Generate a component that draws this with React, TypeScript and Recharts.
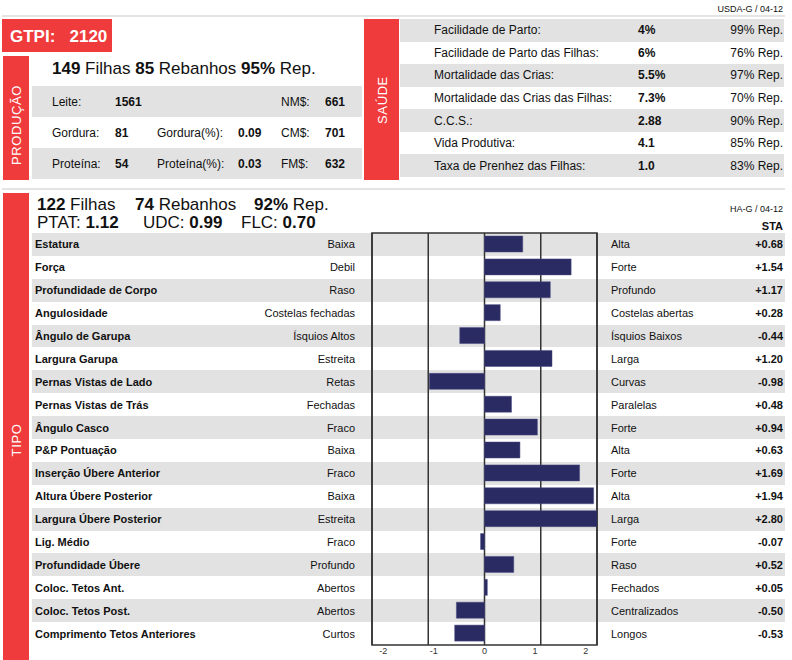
import React from 'react';
import {
  BarChart, Bar, XAxis, YAxis, CartesianGrid, ReferenceArea,
} from 'recharts';

// tipo traits (top to bottom)
const traits = [
  'Estatura', 'Força', 'Profundidade de Corpo', 'Angulosidade', 'Ângulo de Garupa',
  'Largura Garupa', 'Pernas Vistas de Lado', 'Pernas Vistas de Trás', 'Ângulo Casco',
  'P&P Pontuação', 'Inserção Úbere Anterior', 'Altura Úbere Posterior',
  'Largura Úbere Posterior', 'Lig. Médio', 'Profundidade Úbere', 'Coloc. Tetos Ant.',
  'Coloc. Tetos Post.', 'Comprimento Tetos Anteriores',
];
const lowLabels = [
  'Baixa', 'Debil', 'Raso', 'Costelas fechadas', 'Ísquios Altos', 'Estreita', 'Retas',
  'Fechadas', 'Fraco', 'Baixa', 'Fraco', 'Baixa', 'Estreita', 'Fraco', 'Profundo',
  'Abertos', 'Abertos', 'Curtos',
];
const highLabels = [
  'Alta', 'Forte', 'Profundo', 'Costelas abertas', 'Ísquios Baixos', 'Larga', 'Curvas',
  'Paralelas', 'Forte', 'Alta', 'Forte', 'Alta', 'Larga', 'Forte', 'Raso', 'Fechados',
  'Centralizados', 'Longos',
];
const staValues = [
  0.68, 1.54, 1.17, 0.28, -0.44, 1.2, -0.98, 0.48, 0.94, 0.63, 1.69, 1.94, 2.8,
  -0.07, 0.52, 0.05, -0.5, -0.53,
];
const axisTicks = [-2, -1, 0, 1, 2];

// produção table
const prodRows = [
  ['Leite:', '1561', '', '', 'NM$:', '661'],
  ['Gordura:', '81', 'Gordura(%):', '0.09', 'CM$:', '701'],
  ['Proteína:', '54', 'Proteína(%):', '0.03', 'FM$:', '632'],
];

// saúde table
const healthLabels = [
  'Facilidade de Parto:', 'Facilidade de Parto das Filhas:', 'Mortalidade das Crias:',
  'Mortalidade das Crias das Filhas:', 'C.C.S.:', 'Vida Produtiva:', 'Taxa de Prenhez das Filhas:',
];
const healthValues = ['4%', '6%', '5.5%', '7.3%', '2.88', '4.1', '1.0'];
const healthRep = ['99%', '76%', '97%', '70%', '90%', '85%', '83%'];

const data = traits.map((t, i) => ({
  trait: t, low: lowLabels[i], high: highLabels[i], sta: staValues[i],
}));

const RED = '#ef3b3b';
const STRIPE = '#e2e2e2';
const FONT = "'Liberation Sans', Arial, Helvetica, sans-serif";

const CHART_W = 753;
const CHART_H = 429;
const LEFT_W = 340;
const RIGHT_W = 188;
const PLOT_TOP = 2;
const PLOT_H = 412;
const rowH = PLOT_H / traits.length;
const PLOT_MID = LEFT_W + (CHART_W - LEFT_W - RIGHT_W) / 2;

const fmt = (v: number) => (v > 0 ? '+' : '') + v.toFixed(2);

function Txt({ x, y, children, size = 12, bold = false, right = false, color = '#111' }: any) {
  const style: React.CSSProperties = {
    position: 'absolute', top: y, transform: 'translateY(-50%)', fontSize: size,
    lineHeight: 1, whiteSpace: 'nowrap', fontWeight: bold ? 'bold' : 'normal', color,
  };
  if (right) style.right = 792 - x; else style.left = x;
  return <div style={style}>{children}</div>;
}

function VLabel({ x, y, text, size = 13 }: any) {
  return (
    <div style={{
      position: 'absolute', left: x, top: y, transform: 'translate(-50%,-50%) rotate(-90deg)',
      color: '#fff', fontSize: size, whiteSpace: 'nowrap', letterSpacing: 0.6, lineHeight: 1,
    }}>{text}</div>
  );
}

const LeftTick = (props: any) => {
  const d = data.find((r) => r.trait === props.payload.value);
  return (
    <g>
      <text x={3} y={props.y} dy={4} fontSize={11} fontWeight="bold" fill="#111" fontFamily={FONT}>
        {props.payload.value}
      </text>
      <text x={323} y={props.y} dy={4} fontSize={11} textAnchor="end" fill="#111" fontFamily={FONT}>
        {d ? d.low : ''}
      </text>
    </g>
  );
};

const RightTick = (props: any) => {
  const d = data.find((r) => r.trait === props.payload.value);
  if (!d) return null;
  return (
    <g>
      <text x={579} y={props.y} dy={4} fontSize={11} fill="#111" fontFamily={FONT}>{d.high}</text>
      <text x={751} y={props.y} dy={4} fontSize={11} fontWeight="bold" textAnchor="end" fill="#111" fontFamily={FONT}>
        {fmt(d.sta)}
      </text>
    </g>
  );
};

// the print labels sit slightly inside the grid lines
const XTick = (props: any) => {
  const x = PLOT_MID + (props.x - PLOT_MID) * 0.9;
  return (
    <text x={x} y={props.y} dy={7} fontSize={9} textAnchor="middle" fill="#333" fontFamily={FONT}>
      {props.payload.value}
    </text>
  );
};

export default function App() {
  return (
    <div style={{
      position: 'absolute', left: 0, top: 0, width: 792, height: 660, background: '#fff',
      fontFamily: FONT, overflow: 'hidden', color: '#111',
    }}>
      {/* header */}
      <Txt x={783} y={9} size={9} right>USDA-G / 04-12</Txt>
      <div style={{ position: 'absolute', left: 2, top: 15, width: 783, height: 2, background: '#e4e4e4' }} />

      {/* GTPI */}
      <div style={{ position: 'absolute', left: 2, top: 19, width: 110, height: 33, background: RED }} />
      <Txt x={10} y={36} size={17} bold color="#fff">GTPI:&nbsp;&nbsp;&nbsp;2120</Txt>

      {/* produção */}
      <div style={{ position: 'absolute', left: 3, top: 56, width: 26, height: 124, background: RED }} />
      <VLabel x={16} y={125} text="PRODUÇÃO" />
      <Txt x={52} y={68} size={17}>
        <b>149</b> Filhas <b>85</b> Rebanhos <b>95%</b> Rep.
      </Txt>
      {prodRows.map((r, i) => {
        const top = 86 + i * 31;
        const cy = top + 15.5;
        return (
          <React.Fragment key={'p' + i}>
            {i % 2 === 0 && (
              <div style={{ position: 'absolute', left: 32, top, width: 330, height: 31, background: STRIPE }} />
            )}
            <Txt x={52} y={cy}>{r[0]}</Txt>
            <Txt x={115} y={cy} bold>{r[1]}</Txt>
            <Txt x={157} y={cy}>{r[2]}</Txt>
            <Txt x={238} y={cy} bold>{r[3]}</Txt>
            <Txt x={281} y={cy}>{r[4]}</Txt>
            <Txt x={325} y={cy} bold>{r[5]}</Txt>
          </React.Fragment>
        );
      })}

      {/* saúde */}
      <div style={{ position: 'absolute', left: 364, top: 19, width: 35, height: 161, background: RED }} />
      <VLabel x={382} y={100} text="SAÚDE" />
      {healthLabels.map((l, i) => {
        const h = 158 / 7;
        const top = 19 + i * h;
        const cy = top + h / 2;
        return (
          <React.Fragment key={'h' + i}>
            {i % 2 === 0 && (
              <div style={{ position: 'absolute', left: 400, top, width: 384, height: h, background: STRIPE }} />
            )}
            <Txt x={434} y={cy}>{l}</Txt>
            <Txt x={638} y={cy} bold>{healthValues[i]}</Txt>
            <Txt x={783} y={cy} right>{healthRep[i]} Rep.</Txt>
          </React.Fragment>
        );
      })}

      <div style={{ position: 'absolute', left: 2, top: 188, width: 783, height: 2, background: '#e4e4e4' }} />

      {/* tipo */}
      <div style={{ position: 'absolute', left: 3, top: 193, width: 26, height: 467, background: RED }} />
      <VLabel x={16} y={440} text="TIPO" />
      <Txt x={37} y={204} size={17}><b>122</b> Filhas</Txt>
      <Txt x={135} y={204} size={17}><b>74</b> Rebanhos</Txt>
      <Txt x={254} y={204} size={17}><b>92%</b> Rep.</Txt>
      <Txt x={37} y={222} size={17}>PTAT: <b>1.12</b></Txt>
      <Txt x={143} y={222} size={17}>UDC: <b>0.99</b></Txt>
      <Txt x={241} y={222} size={17}>FLC: <b>0.70</b></Txt>
      <Txt x={783} y={209} size={9} right>HA-G / 04-12</Txt>
      <Txt x={783} y={226} size={11} bold right>STA</Txt>

      {/* row stripes behind the chart */}
      {traits.map((t, i) => (i % 2 === 0 ? (
        <div key={'s' + i} style={{
          position: 'absolute', left: 32, top: 231 + PLOT_TOP + i * rowH, width: CHART_W, height: rowH,
          background: STRIPE,
        }} />
      ) : null))}

      <div style={{ position: 'absolute', left: 32, top: 231 }}>
        <BarChart
          width={CHART_W}
          height={CHART_H}
          data={data}
          layout="vertical"
          margin={{ top: PLOT_TOP, right: 0, bottom: 0, left: 0 }}
          barCategoryGap={0}
        >
          <CartesianGrid horizontal={false} stroke="#333" strokeWidth={1.5} />
          <XAxis
            type="number"
            domain={[-2, 2]}
            ticks={axisTicks}
            allowDataOverflow
            height={CHART_H - PLOT_TOP - PLOT_H}
            tickSize={0}
            tickMargin={2}
            axisLine={false}
            tick={(p: any) => <XTick {...p} />}
          />
          <YAxis
            type="category"
            dataKey="trait"
            width={LEFT_W}
            axisLine={false}
            tickLine={false}
            interval={0}
            tick={(p: any) => <LeftTick {...p} />}
          />
          <YAxis
            yAxisId="right"
            orientation="right"
            type="category"
            dataKey="trait"
            width={RIGHT_W}
            axisLine={false}
            tickLine={false}
            interval={0}
            tick={(p: any) => <RightTick {...p} />}
          />
          <Bar
            dataKey="sta"
            barSize={16}
            fill="#2b2b63"
            stroke="#4b4b85"
            strokeWidth={0.5}
            isAnimationActive={false}
          />
          <ReferenceArea x1={-2} x2={2} fill="none" stroke="#333" strokeWidth={1.5} ifOverflow="visible" />
        </BarChart>
      </div>
    </div>
  );
}
